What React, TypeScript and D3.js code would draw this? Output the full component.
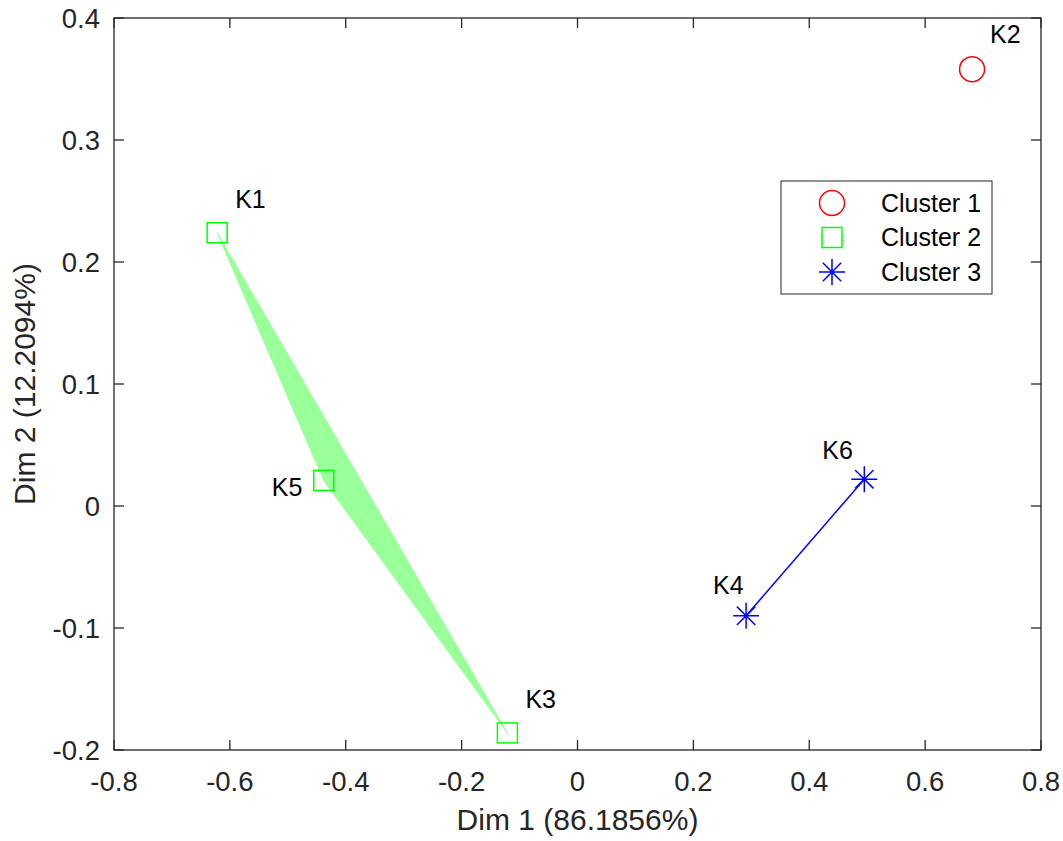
import React, { useEffect, useRef } from "react";
import * as d3 from "d3";

// точки (координаты главных компонент)
const labels = ["K1", "K2", "K3", "K4", "K5", "K6"];
const dim1 = [-0.622, 0.681, -0.121, 0.291, -0.438, 0.495];
const dim2 = [0.224, 0.358, -0.186, -0.09, 0.021, 0.022];
const clusterOf = [2, 1, 2, 3, 2, 3];
const clusterNames = ["Cluster 1", "Cluster 2", "Cluster 3"];

const xTicks = [-0.8, -0.6, -0.4, -0.2, 0, 0.2, 0.4, 0.6, 0.8];
const yTicks = [-0.2, -0.1, 0, 0.1, 0.2, 0.3, 0.4];
const xTitle = "Dim 1 (86.1856%)";
const yTitle = "Dim 2 (12.2094%)";

const width = 1063;
const height = 841;
const margin = { left: 114, right: 22, top: 18, bottom: 91 };

// смещения подписей точек
const labelOffset: Record<string, [number, number]> = {
  K1: [18, -25],
  K2: [18, -26],
  K3: [18, -25],
  K4: [-33, -22],
  K5: [-52, 16],
  K6: [-42, -20],
};

const colors = ["#ff0000", "#00ff00", "#0000ff"];
const axisColor = "#262626";
const font = "Arial, 'Liberation Sans', Helvetica, sans-serif";

function drawMarker(g: any, cluster: number, cx: number, cy: number) {
  const c = colors[cluster - 1];
  if (cluster === 1) {
    g.append("circle")
      .attr("cx", cx)
      .attr("cy", cy)
      .attr("r", 12.5)
      .attr("fill", "none")
      .attr("stroke", c)
      .attr("stroke-width", 1.5);
  } else if (cluster === 2) {
    g.append("rect")
      .attr("x", cx - 10)
      .attr("y", cy - 10)
      .attr("width", 20)
      .attr("height", 20)
      .attr("fill", "none")
      .attr("stroke", c)
      .attr("stroke-width", 1.5);
  } else {
    const r = 13;
    const d = r * Math.SQRT1_2;
    const path = `M${cx - r},${cy}L${cx + r},${cy}M${cx},${cy - r}L${cx},${cy + r}` +
      `M${cx - d},${cy - d}L${cx + d},${cy + d}M${cx - d},${cy + d}L${cx + d},${cy - d}`;
    g.append("path").attr("d", path).attr("stroke", c).attr("stroke-width", 1.5).attr("fill", "none");
  }
}

export default function App() {
  const ref = useRef<SVGSVGElement>(null);

  useEffect(() => {
    const svg = d3.select(ref.current);
    svg.selectAll("*").remove();

    const x = d3.scaleLinear().domain([-0.8, 0.8]).range([margin.left, width - margin.right]);
    const y = d3.scaleLinear().domain([-0.2, 0.4]).range([height - margin.bottom, margin.top]);
    const fmt = (v: number) => (Math.abs(v) < 1e-9 ? "0" : String(+v.toFixed(1)));

    const pts = labels.map((l, i) => ({ label: l, x: x(dim1[i]), y: y(dim2[i]), c: clusterOf[i] }));

    // выпуклые оболочки кластеров
    const hulls = svg.append("g");
    [1, 2, 3].forEach((k) => {
      const p = pts.filter((d) => d.c === k).map((d) => [d.x, d.y] as [number, number]);
      if (p.length >= 3) {
        const h = d3.polygonHull(p)!;
        hulls.append("path")
          .attr("d", "M" + h.join("L") + "Z")
          .attr("fill", "#99ff99")
          .attr("stroke", "#99ff99")
          .attr("stroke-width", 1);
      } else if (p.length === 2) {
        hulls.append("path")
          .attr("d", d3.line()(p)!)
          .attr("stroke", colors[k - 1])
          .attr("stroke-width", 1.5)
          .attr("fill", "none");
      }
    });

    // маркеры
    const marks = svg.append("g");
    pts.forEach((d) => drawMarker(marks, d.c, d.x, d.y));

    // подписи
    svg.append("g")
      .selectAll("text")
      .data(pts)
      .join("text")
      .attr("x", (d) => d.x + labelOffset[d.label][0])
      .attr("y", (d) => d.y + labelOffset[d.label][1])
      .attr("font-family", font)
      .attr("font-size", 25)
      .attr("fill", "#000")
      .text((d) => d.label);

    // оси (рамка с тиками внутрь)
    const [x0, x1] = x.range();
    const [y0, y1] = y.range();
    const axes = svg.append("g").attr("stroke", axisColor).attr("stroke-width", 1.3).attr("fill", "none");
    axes.append("rect").attr("x", x0).attr("y", y1).attr("width", x1 - x0).attr("height", y0 - y1);
    const tl = 10;
    xTicks.forEach((t) => {
      axes.append("line").attr("x1", x(t)).attr("x2", x(t)).attr("y1", y0).attr("y2", y0 - tl);
      axes.append("line").attr("x1", x(t)).attr("x2", x(t)).attr("y1", y1).attr("y2", y1 + tl);
    });
    yTicks.forEach((t) => {
      axes.append("line").attr("x1", x0).attr("x2", x0 + tl).attr("y1", y(t)).attr("y2", y(t));
      axes.append("line").attr("x1", x1).attr("x2", x1 - tl).attr("y1", y(t)).attr("y2", y(t));
    });

    const tickText = svg.append("g").attr("font-family", font).attr("font-size", 27.5).attr("fill", axisColor);
    tickText.selectAll(".xt")
      .data(xTicks)
      .join("text")
      .attr("x", (d) => x(d))
      .attr("y", y0 + 41)
      .attr("text-anchor", "middle")
      .text(fmt);
    tickText.selectAll(".yt")
      .data(yTicks)
      .join("text")
      .attr("x", x0 - 14)
      .attr("y", (d) => y(d))
      .attr("dy", "0.35em")
      .attr("text-anchor", "end")
      .text(fmt);

    svg.append("text")
      .attr("x", (x0 + x1) / 2)
      .attr("y", 830)
      .attr("text-anchor", "middle")
      .attr("font-family", font)
      .attr("font-size", 30)
      .attr("fill", axisColor)
      .text(xTitle);

    svg.append("text")
      .attr("transform", `translate(35,${(y0 + y1) / 2}) rotate(-90)`)
      .attr("text-anchor", "middle")
      .attr("font-family", font)
      .attr("font-size", 30)
      .attr("fill", axisColor)
      .text(yTitle);

    // легенда
    const lg = svg.append("g").attr("transform", "translate(781,181)");
    lg.append("rect")
      .attr("width", 211)
      .attr("height", 113)
      .attr("fill", "#fff")
      .attr("stroke", axisColor)
      .attr("stroke-width", 1);
    clusterNames.forEach((name, i) => {
      const cy = 22 + i * 34.5;
      drawMarker(lg, i + 1, 51, cy);
      lg.append("text")
        .attr("x", 100)
        .attr("y", cy)
        .attr("dy", "0.35em")
        .attr("font-family", font)
        .attr("font-size", 25)
        .attr("fill", "#000")
        .text(name);
    });
  }, []);

  return (
    <div style={{ position: "absolute", left: 0, top: 0 }}>
      <svg ref={ref} width={width} height={height} style={{ display: "block", background: "#fff" }}></svg>
    </div>
  );
}
